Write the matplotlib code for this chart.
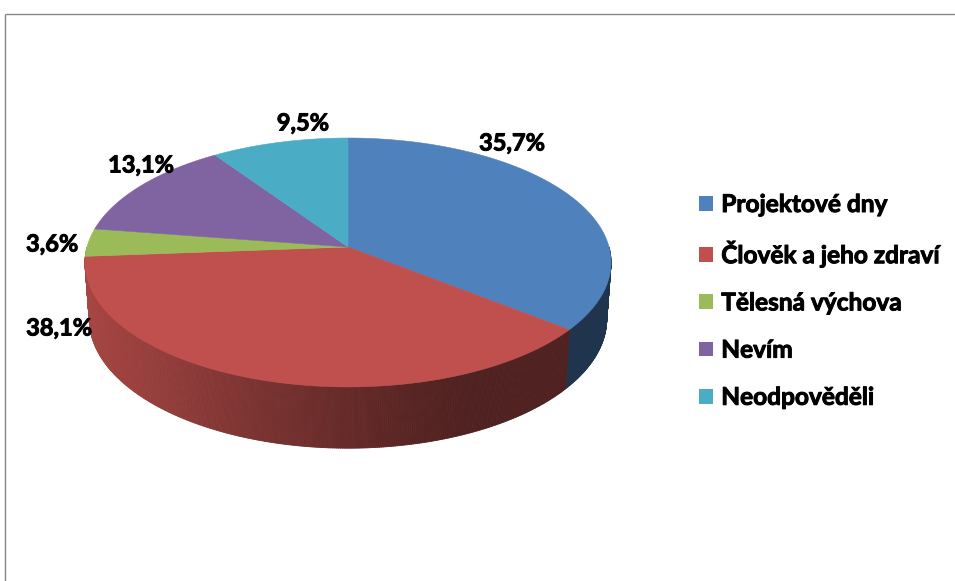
import numpy as np
import matplotlib
matplotlib.use("Agg")
import matplotlib.pyplot as plt
import matplotlib.patheffects as pe
from matplotlib.patches import Polygon, Patch
from matplotlib.collections import PolyCollection
from matplotlib.colors import to_rgb

# ---- data -------------------------------------------------------------
categories = ["Projektové dny", "Člověk a jeho zdraví", "Tělesná výchova",
              "Nevím", "Neodpověděli"]
shares = [35.7, 38.1, 3.6, 13.1, 9.5]
colors = ["#4F81BD", "#C0504D", "#9BBB59", "#8064A2", "#4BACC6"]

# label anchor positions (pixels, figure space)
label_xy = [(512, 143), (59, 328), (52, 244), (141, 165), (303, 123)]

FONT = "Lato"
WEIGHT = "bold"
# a thin outline in the text colour gives the glyphs a heavier stroke
HEAVY = [pe.withStroke(linewidth=0.7, foreground="black")]
W, H = 955, 581

# ---- perspective pie geometry -----------------------------------------
CX, CY = 348, 247          # screen position of pie centre
ELEV = np.radians(28)      # camera elevation
DIST = 7.1                 # camera distance (in pie radii)
FOCAL = 1853               # focal length in pixels
THICK = 0.247              # pie thickness (in pie radii)


def project(theta, y):
    """Project a rim point (angle clockwise from back, height y) to screen."""
    x3 = np.sin(theta)
    z3 = -np.cos(theta)
    depth = DIST - y * np.sin(ELEV) - z3 * np.cos(ELEV)
    sx = CX + FOCAL * x3 / depth
    sy = CY - FOCAL * (y * np.cos(ELEV) - z3 * np.sin(ELEV)) / depth
    return sx, sy


def side_shade(sx):
    t = np.clip((470 - sx) / (470 - 87), 0, 1)
    return 0.41 + 0.46 * t ** 1.2


fig = plt.figure(figsize=(W / 100, H / 100), dpi=100)
ax = fig.add_axes([0, 0, 1, 1])
ax.set_xlim(0, W)
ax.set_ylim(H, 0)
ax.axis("off")

fracs = np.array(shares) / np.sum(shares)
bounds = np.concatenate([[0], np.cumsum(fracs)]) * 2 * np.pi

# side wall: thin strips along the visible front rim
strips, strip_cols, strip_z = [], [], []
for i, c in enumerate(colors):
    a0 = max(bounds[i], np.pi / 2)
    a1 = min(bounds[i + 1], 3 * np.pi / 2)
    if a1 <= a0:
        continue
    n = max(2, int(np.degrees(a1 - a0) / 0.4))
    th = np.linspace(a0, a1, n + 1)
    base = np.array(to_rgb(c))
    for t0, t1 in zip(th[:-1], th[1:]):
        x0t, y0t = project(t0, 0)
        x1t, y1t = project(t1, 0)
        x0b, y0b = project(t0, -THICK)
        x1b, y1b = project(t1, -THICK)
        strips.append([(x0t, y0t), (x1t, y1t), (x1b, y1b), (x0b, y0b)])
        col = np.clip(base * side_shade(0.5 * (x0t + x1t)), 0, 1)
        strip_cols.append(col)
        strip_z.append(-np.cos(0.5 * (t0 + t1)))
order = np.argsort(strip_z)
pc = PolyCollection([strips[k] for k in order],
                    facecolors=[strip_cols[k] for k in order],
                    edgecolors=[strip_cols[k] for k in order],
                    linewidths=0.6, antialiased=True)
ax.add_collection(pc)

# top face
for i, c in enumerate(colors):
    th = np.linspace(bounds[i], bounds[i + 1], 200)
    sx, sy = project(th, 0)
    pts = [(CX, CY)] + list(zip(sx, sy))
    ax.add_patch(Polygon(pts, closed=True, facecolor=c, edgecolor=c,
                         linewidth=0.4))

# percentage labels
for v, (lx, ly) in zip(shares, label_xy):
    ax.text(lx, ly, f"{v:.1f}".replace(".", ",") + "%", ha="center",
            va="center", fontsize=17, fontweight=WEIGHT, family=FONT,
            color="black", path_effects=HEAVY)

# legend
handles = [Patch(facecolor=c, edgecolor="none") for c in colors]
leg = fig.legend(handles, categories, loc="upper left",
                 bbox_to_anchor=(699 / W, 1 - 193 / H), frameon=False,
                 prop={"family": FONT, "weight": WEIGHT, "size": 17.6},
                 handlelength=0.56, handleheight=0.56, handletextpad=0.35,
                 labelspacing=0.99, borderpad=0, borderaxespad=0)
for t in leg.get_texts():
    t.set_path_effects(HEAVY)

# chart area border (top and left edges)
ax.plot([4.5, W], [13.5, 13.5], color="#868686", lw=1.0,
        solid_capstyle="butt")
ax.plot([4.5, 4.5], [13.5, H], color="#868686", lw=1.0,
        solid_capstyle="butt")

fig.savefig("out.png", dpi=100, facecolor="white")
